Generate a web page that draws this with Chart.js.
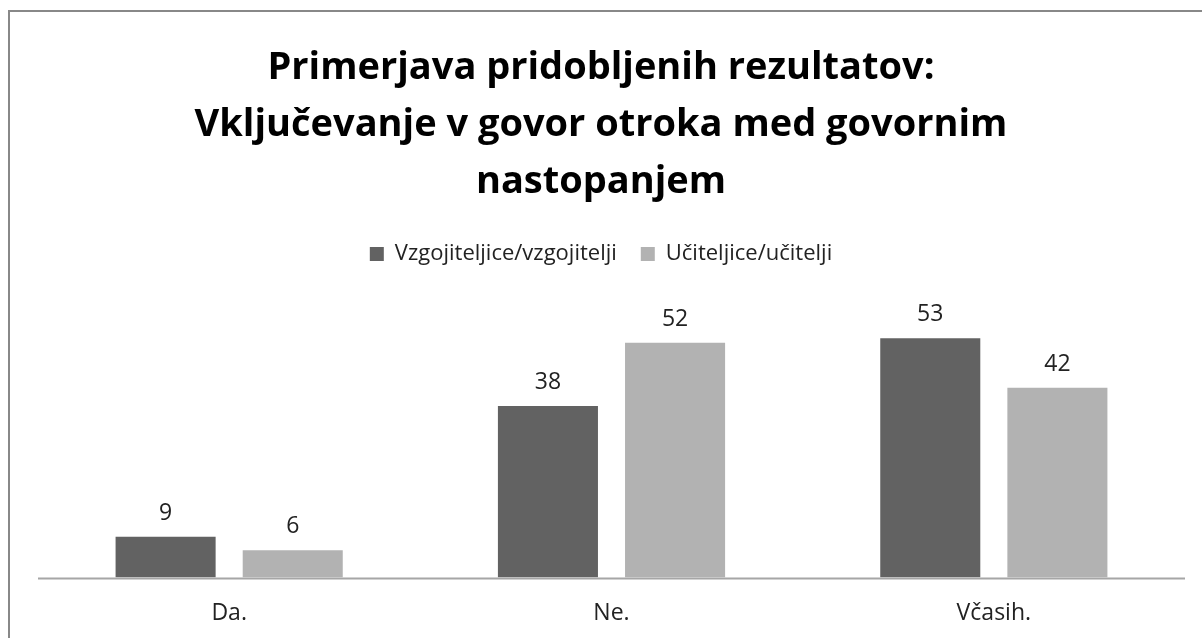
<!DOCTYPE html>
<html>
<head>
<meta charset="utf-8">
<script src="https://cdn.jsdelivr.net/npm/chart.js@4/dist/chart.umd.min.js"></script>
<style>
	html, body { margin: 0; padding: 0; background: #fff; overflow: hidden; }
	#wrap { position: relative; width: 1202px; height: 638px; }
	#frame { position: absolute; left: 8px; top: 10px; width: 1300px; height: 700px; border: 2px solid #888; pointer-events: none; }
	canvas { position: absolute; left: 0; top: 0; }
</style>
</head>
<body>
<div id="wrap">
	<canvas id="barChart" width="1202" height="638"></canvas>
	<div id="frame"></div>
</div>
<script>
const categories = ['Da.', 'Ne.', 'Včasih.'];
const vzgojiteljice = [9, 38, 53];
const uciteljice = [6, 52, 42];
const seriesNames = ['Vzgojiteljice/vzgojitelji', 'Učiteljice/učitelji'];
const titleLines = ['Primerjava pridobljenih rezultatov:', 'Vključevanje v govor otroka med govornim', 'nastopanjem'];

const fontName = '"Open Sans", sans-serif';

// numbers above each bar + the baseline
const valueLabels = {
	id: 'valueLabels',
	afterDatasetsDraw(chart) {
		const ctx = chart.ctx;
		const area = chart.chartArea;
		ctx.save();
		ctx.strokeStyle = '#a6a6a6';
		ctx.lineWidth = 2;
		ctx.beginPath();
		ctx.moveTo(area.left, area.bottom + 1);
		ctx.lineTo(area.right, area.bottom + 1);
		ctx.stroke();

		ctx.font = '23px ' + fontName;
		ctx.fillStyle = '#222';
		ctx.textAlign = 'center';
		ctx.textBaseline = 'alphabetic';
		chart.data.datasets.forEach(function(ds, i) {
			chart.getDatasetMeta(i).data.forEach(function(bar, j) {
				ctx.fillText(ds.data[j], bar.x, bar.y - 17);
			});
		});
		ctx.restore();
	}
};

const crt = document.getElementById('barChart');
new Chart(crt, {
	type: 'bar',
	data: {
		labels: categories,
		datasets: [{
			label: seriesNames[0],
			data: vzgojiteljice,
			backgroundColor: '#626262',
			borderWidth: 0
		}, {
			label: seriesNames[1],
			data: uciteljice,
			backgroundColor: '#b2b2b2',
			borderWidth: 0
		}]
	},
	options: {
		responsive: false,
		animation: false,
		layout: { padding: { left: 17, right: 17, top: 40, bottom: -11 } },
		categoryPercentage: 0.665,
		barPercentage: 0.787,
		plugins: {
			title: {
				display: true,
				text: titleLines,
				color: '#000',
				font: { family: fontName, size: 38, weight: 'bold', lineHeight: 1.5 },
				padding: { top: 0, bottom: 8 }
			},
			legend: {
				labels: {
					color: '#222',
					font: { family: fontName, size: 22 },
					boxWidth: 14,
					boxHeight: 14,
					padding: 24
				}
			},
			tooltip: { enabled: false }
		},
		scales: {
			x: {
				grid: { display: false, drawTicks: false },
				border: { display: false },
				ticks: { color: '#222', font: { family: fontName, size: 23 }, padding: 22 }
			},
			y: {
				display: true,
				min: 0,
				max: 67,
				grid: { display: false, drawTicks: false },
				border: { display: false },
				ticks: { display: false },
				afterFit(scale) { scale.width = 21; }
			}
		}
	},
	plugins: [valueLabels]
});
</script>
</body>
</html>
